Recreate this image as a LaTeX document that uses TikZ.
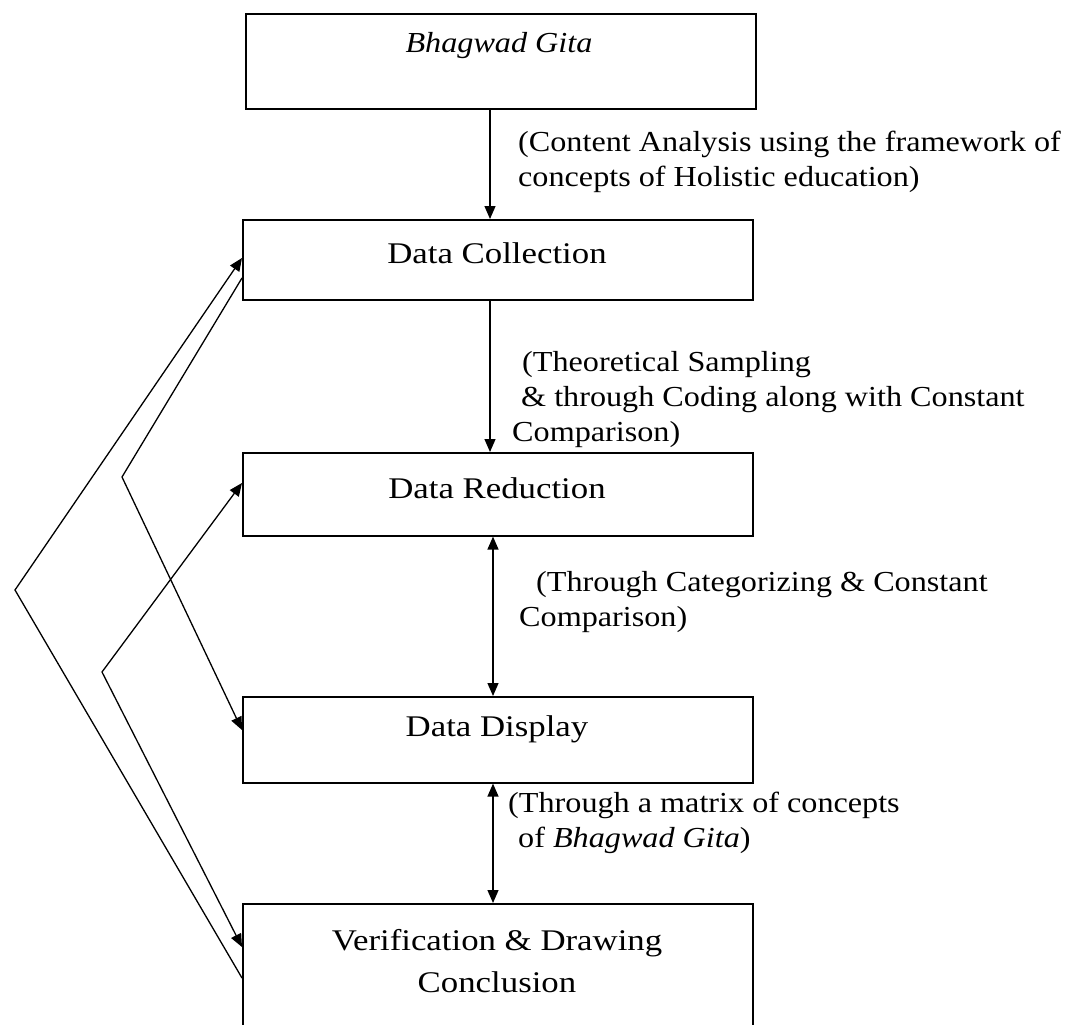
\documentclass[tikz,border=0pt]{standalone}
\usepackage{fontspec}
\setmainfont{Liberation Serif}
\newfontfamily\boxfont[FakeStretch=1.16]{Liberation Serif}
\newfontfamily\labfont[FakeStretch=1.11]{Liberation Serif}
\usetikzlibrary{arrows.meta}
\begin{document}
\begin{tikzpicture}[x=1pt,y=-1pt,
  box/.style={draw, line width=1.6pt, minimum width=510pt, anchor=north west, inner sep=0pt},
  boxtext/.style={font=\boxfont\fontsize{30}{42}\selectfont, align=center, inner sep=0pt},
  lab/.style={font=\labfont\fontsize{29}{35}\selectfont, align=left, anchor=west, inner sep=0pt},
  tip/.tip={Triangle[length=13pt,width=11pt]},
  conn/.style={line width=1.3pt, -tip},
  dconn/.style={line width=1.3pt, tip-tip}
]
\useasboundingbox (0,0) rectangle (1069,1025);
% boxes
\node[box, minimum height=95pt] (b1) at (245,13) {};
\node[box, minimum height=80pt] (b2) at (242,219) {};
\node[box, minimum height=83pt] (b3) at (242,452) {};
\node[box, minimum height=86pt] (b4) at (242,696) {};
\node[box, minimum height=140pt] (b5) at (242,903) {};
% box texts
\node[boxtext, font=\labfont\fontsize{29}{35}\selectfont\itshape] (t1) at (499,46) {Bhagwad Gita};
\node[boxtext] (t2) at (497,253) {Data Collection};
\node[boxtext] (t3) at (497,488) {Data Reduction};
\node[boxtext] (t4) at (497,729) {Data Display};
\node[boxtext] (t5) at (497,961) {Verification \& Drawing\\Conclusion};
% vertical connectors
\coordinate (ax) at (490,0);
\coordinate (bx) at (493,0);
\draw[conn] (b1.south -| ax) -- (b2.north -| ax);
\draw[conn] (b2.south -| ax) -- (b3.north -| ax);
\draw[dconn] (b3.south -| bx) -- (b4.north -| bx);
\draw[dconn] (b4.south -| bx) -- (b5.north -| bx);
% labels
\node[lab] (l1) at (518,162) {(Content Analysis using the framework of\\concepts of Holistic education)};
\node[lab] (l2) at (512,400) {\hspace{10pt}(Theoretical Sampling\\\hspace{9pt}\& through Coding along with Constant\\Comparison)};
\node[lab] (l3) at (519,602) {\hspace{17pt}(Through Categorizing \& Constant\\Comparison)};
\node[lab] (l4) at (508,823) {(Through a matrix of concepts\\\hspace{10pt}of \textit{Bhagwad Gita})};
% left feedback lines
\coordinate (v1) at (15,590);
\coordinate (v2) at (122,477);
\coordinate (v3) at (102,672);
\draw[conn] ([yshift=-75pt]b5.north west) -- (v1) -- ([yshift=-39pt]b2.north west);
\draw[conn] ([yshift=-59pt]b2.north west) -- (v2) -- ([yshift=-34pt]b4.north west);
\draw[dconn] ([yshift=-31pt]b3.north west) -- (v3) -- ([yshift=-44pt]b5.north west);
\end{tikzpicture}
\end{document}
